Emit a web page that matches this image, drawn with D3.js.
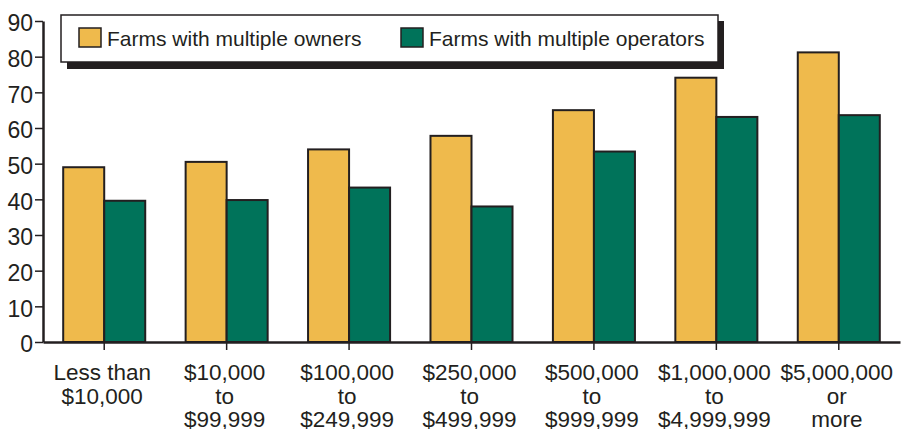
<!DOCTYPE html>
<html>
<head>
<meta charset="utf-8">
<script src="https://cdn.jsdelivr.net/npm/d3@7"></script>
<style>
  html, body { margin: 0; padding: 0; background: #fff; }
  svg { display: block; font-family: "Liberation Sans", Arial, Helvetica, sans-serif; }
</style>
</head>
<body>
<svg id="chart" width="903" height="429"></svg>
<script>
const categories = [
  ["Less than", "$10,000"],
  ["$10,000", "to", "$99,999"],
  ["$100,000", "to", "$249,999"],
  ["$250,000", "to", "$499,999"],
  ["$500,000", "to", "$999,999"],
  ["$1,000,000", "to", "$4,999,999"],
  ["$5,000,000", "or", "more"]
];
const seriesNames = ["Farms with multiple owners", "Farms with multiple operators"];
const owners = [49.0, 50.5, 54.0, 57.8, 65.0, 74.1, 81.2];
const operators = [39.6, 39.8, 43.3, 38.0, 53.4, 63.1, 63.6];
const yTicks = [0, 10, 20, 30, 40, 50, 60, 70, 80, 90];
const colors = ["#EFBA4C", "#00735A"];

(function () {
const svg = d3.select("#chart");
const ink = "#231f20";
const mLeft = 43, mRight = 900, mTop = 21, mBottom = 342;

const x = d3.scaleBand().domain(d3.range(categories.length)).range([mLeft, mRight]).paddingInner(0.33).paddingOuter(0.165);
const x1 = d3.scaleBand().domain([0, 1]).range([0, x.bandwidth()]);
const y = d3.scaleLinear().domain([0, 90]).range([mBottom, mTop]);

const series = [owners, operators];

// bars
const groups = svg.append("g").selectAll("g")
  .data(categories.map((c, i) => i))
  .join("g")
  .attr("transform", i => `translate(${x(i)},0)`);
groups.selectAll("rect")
  .data(i => series.map((s, k) => ({k, v: s[i]})))
  .join("rect")
  .attr("x", d => x1(d.k))
  .attr("y", d => y(d.v))
  .attr("width", x1.bandwidth())
  .attr("height", d => y(0) - y(d.v))
  .attr("fill", d => colors[d.k])
  .attr("stroke", ink)
  .attr("stroke-width", 2);

// y axis
const yAxis = svg.append("g")
  .attr("transform", `translate(${mLeft},0)`)
  .call(d3.axisLeft(y).tickValues(yTicks).tickSize(8).tickPadding(2).tickSizeOuter(0));
yAxis.select(".domain").attr("stroke", ink).attr("stroke-width", 2.5);
yAxis.selectAll(".tick line").attr("stroke", ink).attr("stroke-width", 1.5);
yAxis.selectAll(".tick text").attr("fill", ink).attr("font-size", 23)
  .attr("dy", "0.38em").attr("y", 1)
  .attr("font-family", "Liberation Sans, Arial, sans-serif");

// x axis
const xAxis = svg.append("g")
  .attr("transform", `translate(0,${mBottom})`)
  .call(d3.axisBottom(x).tickSize(8).tickSizeOuter(0).tickFormat(""));
xAxis.select(".domain").attr("stroke", ink).attr("stroke-width", 2.5);
xAxis.selectAll(".tick line").attr("stroke", ink).attr("stroke-width", 1.5);
xAxis.selectAll(".tick").each(function(i) {
  const t = d3.select(this).append("text")
    .attr("fill", ink)
    .attr("font-size", 22.5)
    .attr("font-family", "Liberation Sans, Arial, sans-serif")
    .attr("text-anchor", "middle");
  categories[i].forEach((line, j) => {
    t.append("tspan").attr("x", -2).attr("y", 38 + j * 23.5).text(line);
  });
});

// legend
const lg = svg.append("g");
lg.append("rect").attr("x", 67).attr("y", 21).attr("width", 657).attr("height", 48).attr("fill", ink);
lg.append("rect").attr("x", 61).attr("y", 15).attr("width", 657).attr("height", 47).attr("fill", "#fff").attr("stroke", ink).attr("stroke-width", 1.5);
const legendX = [79, 401];
seriesNames.forEach((name, k) => {
  lg.append("rect").attr("x", legendX[k]).attr("y", 28).attr("width", 22).attr("height", 19)
    .attr("fill", colors[k]).attr("stroke", ink).attr("stroke-width", 1.5);
  lg.append("text").attr("x", legendX[k] + 28).attr("y", 46)
    .attr("font-size", 21).attr("fill", ink).text(name);
});
})();
</script>
</body>
</html>
